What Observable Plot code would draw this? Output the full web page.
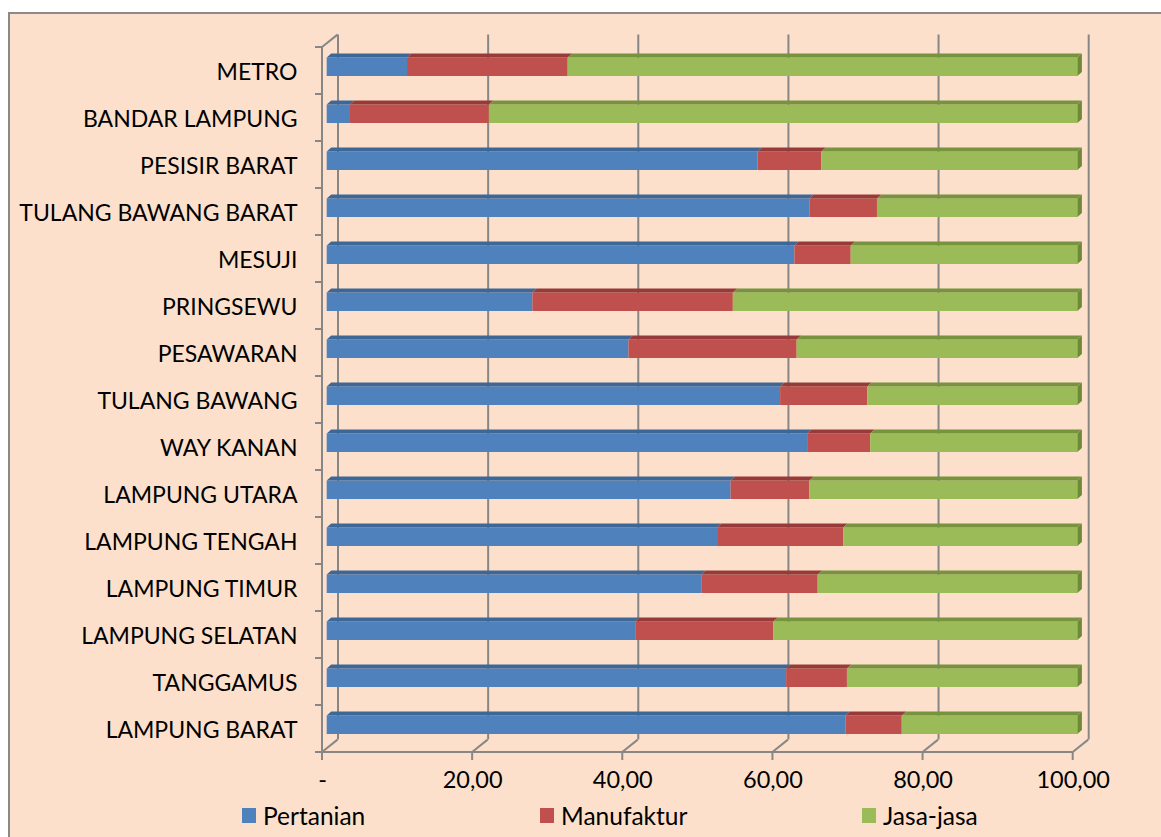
<!DOCTYPE html>
<html>
<head>
<meta charset="utf-8">
<script src="https://cdn.jsdelivr.net/npm/d3@7"></script>
<script src="https://cdn.jsdelivr.net/npm/@observablehq/plot@0.6"></script>
<style>
  html, body { margin: 0; padding: 0; background: #ffffff; }
  #wrap { position: relative; width: 1161px; height: 837px; overflow: hidden; font-family: Lato, "Open Sans", sans-serif; }
  #panel { position: absolute; left: 8px; top: 12px; width: 1200px; height: 900px; background: #FCE0CB; border-left: 2px solid #8a8a8a; border-top: 2px solid #8a8a8a; }
  #chart { position: absolute; left: 0; top: 0; }
  #legend { position: absolute; left: 0; top: 802px; width: 1161px; height: 26px; font-size: 24.5px; color: #000; }
  .item { position: absolute; top: 0; display: flex; align-items: center; height: 26px; white-space: nowrap; }
  .swatch { width: 14px; height: 15px; margin-right: 7px; }
</style>
</head>
<body>
<div id="wrap">
  <div id="panel"></div>
  <div id="chart"></div>
  <div id="legend"></div>
</div>
<script>
// Regencies and cities of Lampung, listed from the bottom row up
const regions = [
  "LAMPUNG BARAT", "TANGGAMUS", "LAMPUNG SELATAN", "LAMPUNG TIMUR", "LAMPUNG TENGAH",
  "LAMPUNG UTARA", "WAY KANAN", "TULANG BAWANG", "PESAWARAN", "PRINGSEWU",
  "MESUJI", "TULANG BAWANG BARAT", "PESISIR BARAT", "BANDAR LAMPUNG", "METRO"
];
// Sector shares (%) per region
const pertanian  = [69.1, 61.2, 41.1, 49.9, 52.0, 53.8, 64.0, 60.4, 40.2, 27.4, 62.3, 64.3, 57.4, 3.1, 10.7];
const manufaktur = [ 7.5,  8.1, 18.4, 15.5, 16.8, 10.5,  8.4, 11.6, 22.4, 26.7,  7.5,  9.0,  8.5, 18.5, 21.4];
const jasa       = [23.4, 30.7, 40.5, 34.6, 31.2, 35.7, 27.6, 28.0, 37.4, 45.9, 30.2, 26.7, 34.1, 78.4, 67.9];

const sectors = ["Pertanian", "Manufaktur", "Jasa-jasa"];
const frontColors = ["#4F81BD", "#C0504D", "#9BBB59"];
const topColors   = ["#3D6797", "#963B39", "#77933D"];
const sideColor   = "#6E8A36";

const xTicks = [0, 20, 40, 60, 80, 100];
const xTickLabels = ["-", "20,00", "40,00", "60,00", "80,00", "100,00"];

// long table for the stacked bars
const series = [pertanian, manufaktur, jasa];
const rows = regions.flatMap((r, i) => sectors.map((s, k) => ({region: r, sector: s, value: series[k][i]})));

// oblique projection of the depth axis
const DEPTH_X = 15.5, DEPTH_Y = -12.4;   // full depth of the plot box
const BAR_DX = 4.7;                        // bar front face inside the box
const TOP_X = 4.5, TOP_Y = 4;              // bar thickness in depth
const INSET_TOP = 10.5, INSET_BOTTOM = 18;
const GRID = "#878787";

// Walls, floor and axis ticks of the 3-D box
function box3d(index, scales, values, dims) {
  const x = scales.x, y = scales.y;
  const top = dims.marginTop, bottom = dims.height - dims.marginBottom;
  const g = d3.create("svg:g").attr("fill", "none").attr("stroke", GRID).attr("stroke-width", 2);
  const x0 = x(0);
  g.append("line").attr("x1", x0).attr("x2", x0).attr("y1", top).attr("y2", bottom);
  g.append("line").attr("x1", x0).attr("y1", top).attr("x2", x0 + DEPTH_X).attr("y2", top + DEPTH_Y);
  const bounds = regions.map(r => y(r)).concat([bottom]);
  for (const b of bounds) {
    g.append("line").attr("x1", x0 - 7).attr("x2", x0).attr("y1", b).attr("y2", b);
  }
  g.append("line").attr("x1", x0).attr("x2", x(100)).attr("y1", bottom).attr("y2", bottom);
  for (const t of xTicks) {
    const xt = x(t);
    g.append("line").attr("x1", xt).attr("x2", xt).attr("y1", bottom).attr("y2", bottom + 8);
    g.append("line").attr("x1", xt).attr("y1", bottom).attr("x2", xt + DEPTH_X).attr("y2", bottom + DEPTH_Y);
  }
  return g.node();
}

// Top faces and the right end face of each stacked bar
function barTops(index, scales, values, dims) {
  const x = scales.x, y = scales.y;
  const bw = y.bandwidth();
  const g = d3.create("svg:g");
  regions.forEach((r, i) => {
    const yt = y(r) + INSET_TOP;
    const yb = y(r) + bw - INSET_BOTTOM;
    let start = 0;
    series.forEach((s, k) => {
      const end = start + s[i];
      const a = x(start) + BAR_DX, b = x(end) + BAR_DX;
      g.append("polygon")
        .attr("points", [[a, yt], [b, yt], [b + TOP_X, yt - TOP_Y], [a + TOP_X, yt - TOP_Y]].join(" "))
        .attr("fill", topColors[k]);
      if (k === series.length - 1) {
        g.append("polygon")
          .attr("points", [[b, yt], [b + TOP_X, yt - TOP_Y], [b + TOP_X, yb - TOP_Y], [b, yb]].join(" "))
          .attr("fill", sideColor);
      }
      start = end;
    });
  });
  return g.node();
}

const chart = Plot.plot({
  width: 1161,
  height: 800,
  marginLeft: 322,
  marginRight: 88.3,
  marginTop: 47,
  marginBottom: 48,
  style: {background: "transparent", fontFamily: "Lato, 'Open Sans', sans-serif", fontSize: "23px", color: "#000", overflow: "visible"},
  x: {domain: [0, 100], axis: null},
  y: {domain: regions.slice().reverse(), padding: 0, axis: null},
  color: {domain: sectors, range: frontColors},
  marks: [
    Plot.ruleX(xTicks, {x: d => d, dx: DEPTH_X, dy: DEPTH_Y, stroke: GRID, strokeWidth: 2}),
    box3d,
    Plot.barX(rows, Plot.stackX({y: "region", x: "value", fill: "sector", order: null,
      dx: BAR_DX, insetTop: INSET_TOP, insetBottom: INSET_BOTTOM})),
    barTops,
    Plot.axisY({tickSize: 0, tickPadding: 25, fontSize: 23, fill: "#000", dy: 2, label: null}),
    Plot.axisX(xTicks, {tickSize: 0, tickPadding: 19, fontSize: 23.5, fill: "#000", label: null,
      tickFormat: d => xTickLabels[xTicks.indexOf(d)]})
  ]
});
document.getElementById("chart").appendChild(chart);

// legend under the plot
const legendX = [242, 540, 862];
const legend = d3.select("#legend");
sectors.forEach((s, k) => {
  const item = legend.append("div").attr("class", "item").style("left", legendX[k] + "px");
  item.append("div").attr("class", "swatch").style("background", frontColors[k]);
  item.append("span").text(s);
});
</script>
</body>
</html>
